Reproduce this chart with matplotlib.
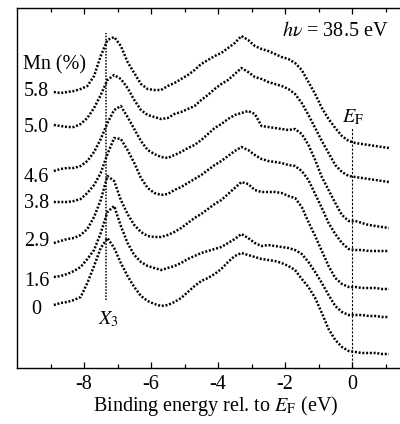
import numpy as np
import matplotlib
matplotlib.use('Agg')
import matplotlib.pyplot as plt

plt.rcParams['font.family'] = ['Liberation Serif', 'DejaVu Serif']
plt.rcParams['mathtext.fontset'] = 'stix'
plt.rcParams['axes.unicode_minus'] = False

# binding energy grid (eV), shared by all spectra
energy = np.round(np.arange(-8.9, 1.1001, 0.2), 2)

# photoemission intensity (arb. units, vertically offset) for each Mn content
mn_labels = ['5.8', '5.0', '4.6', '3.8', '2.9', '1.6', '0']
spec_58 = [276, 275, 276, 277, 279, 282, 292, 312, 328, 331, 322, 306, 295, 284, 279, 278, 278, 282, 285, 289,
           293, 298, 304, 308, 312, 315, 320, 325, 332, 328, 322, 319, 317, 314, 311, 309, 305, 298, 286, 274,
           260, 249, 240, 232, 227, 225, 224, 223, 222, 221, 220]
spec_50 = [243, 242, 241, 241, 244, 250, 260, 273, 288, 293, 289, 280, 268, 258, 253, 251, 249, 250, 254, 256,
           259, 262, 268, 273, 279, 284, 288, 294, 300, 296, 291, 289, 286, 284, 282, 279, 274, 265, 253, 240,
           227, 215, 203, 196, 192, 191, 190, 189, 188, 187, 186]
spec_46 = [197, 199, 200, 200, 202, 207, 216, 229, 245, 258, 262, 251, 239, 227, 218, 214, 211, 210, 213, 216,
           220, 223, 228, 234, 240, 244, 249, 253, 255, 257, 254, 242, 241, 240, 239, 238, 239, 234, 223, 208,
           191, 178, 165, 153, 147, 147, 145, 143, 142, 141, 140]
spec_38 = [166, 166, 166, 167, 169, 175, 183, 195, 214, 230, 229, 218, 205, 190, 180, 175, 173, 174, 178, 181,
           185, 189, 193, 198, 203, 207, 212, 217, 221, 218, 213, 209, 207, 206, 205, 203, 202, 197, 188, 174,
           160, 145, 134, 125, 119, 118, 118, 117, 117, 117, 117]
spec_29 = [125, 127, 129, 130, 133, 139, 151, 168, 192, 187, 168, 154, 143, 136, 132, 131, 131, 133, 136, 140,
           145, 150, 154, 159, 164, 168, 174, 180, 186, 184, 178, 176, 176, 176, 175, 172, 170, 161, 146, 132,
           117, 102, 90, 84, 81, 81, 80, 80, 80, 79, 79]
spec_16 = [91, 92, 94, 97, 101, 109, 118, 135, 156, 162, 142, 125, 113, 106, 102, 100, 98, 100, 102, 105,
           109, 112, 115, 117, 119, 121, 125, 129, 134, 130, 125, 122, 123, 122, 121, 120, 118, 114, 106, 96,
           85, 73, 62, 56, 53, 53, 53, 52, 52, 51, 51]
spec_00 = [63, 65, 66, 68, 71, 85, 102, 120, 130, 120, 105, 92, 81, 72, 67, 64, 62, 63, 66, 70,
           76, 82, 87, 90, 94, 99, 106, 112, 115, 113, 111, 109, 108, 107, 105, 102, 98, 89, 81, 70,
           55, 39, 28, 21, 17, 16, 15, 15, 15, 14, 14]
spectra = [spec_58, spec_50, spec_46, spec_38, spec_29, spec_16, spec_00]
label_heights = [276, 241, 191, 165, 126, 86, 59]

x3_energy = -7.34
fs = 14.5

fig = plt.figure(figsize=(4.0, 4.24), dpi=100)
ax = fig.add_axes([17 / 400, 56 / 424, 385.25 / 400, 360 / 424])

for spec in spectra:
    ax.plot(energy, spec, color='black', lw=1.8, linestyle=(0, (0.8, 0.7)))

# Mn concentration labels
ax.text(-9.82, 303, 'Mn (%)', fontsize=fs, ha='left', va='center')
for lab, h in zip(mn_labels, label_heights):
    ax.text(-9.42, h, lab, fontsize=fs, ha='center', va='center')

# Fermi level and X3 markers
ax.plot([0, 0], [0, 241], color='black', lw=0.8, linestyle=(0, (2, 1.5)))
ax.text(0.03, 251, r'$E_\mathrm{F}$', fontsize=fs, ha='center', va='center')
ax.plot([x3_energy, x3_energy], [68, 335], color='black', lw=1.1, linestyle=(0, (1, 1)))
ax.text(-7.28, 49, r'$X_3$', fontsize=fs, ha='center', va='center')

ax.text(1.1, 336, r'$h\nu$ = 38.5 eV', fontsize=fs, ha='right', va='center')

ax.set_xlim(-10, 1.5)
ax.set_ylim(0, 360)
ax.set_xticks([-8, -6, -4, -2, 0])
ax.set_xticks([-9, -7, -5, -3, -1, 1], minor=True)
ax.set_yticks([])
ax.tick_params(axis='x', which='both', direction='in', top=True, bottom=True, labelsize=fs, pad=5)
ax.tick_params(axis='x', which='major', length=4.3, width=0.9)
ax.tick_params(axis='x', which='minor', length=3.0, width=0.9)
for side in ['left', 'bottom', 'top', 'right']:
    ax.spines[side].set_linewidth(1.0)

ax.set_xlabel(r'Binding energy rel. to $E_\mathrm{F}$ (eV)', fontsize=fs)
ax.xaxis.set_label_coords(0.515, -0.072)
ax.xaxis.label.set_va('top')

plt.savefig('out.png', dpi=100)
plt.close()
